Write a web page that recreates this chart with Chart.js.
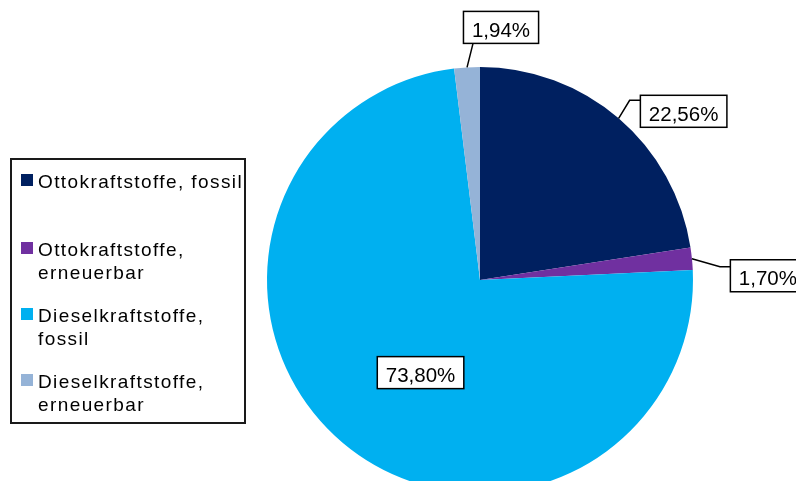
<!DOCTYPE html>
<html>
<head>
<meta charset="utf-8">
<script src="https://cdn.jsdelivr.net/npm/chart.js@4.4.1/dist/chart.umd.min.js"></script>
<style>
html, body { margin: 0; padding: 0; overflow: hidden; background: #fff; width: 796px; height: 481px; }
#wrap { position: relative; width: 796px; height: 481px; overflow: hidden; }
#pie { position: absolute; left: 0; top: 0; }
#legend {
    position: absolute; left: 10px; top: 158px; width: 232px; height: 262px;
    border: 2px solid #1a1a1a; background: #fff;
    font-family: "Liberation Sans", Arial, sans-serif; font-size: 19px;
    letter-spacing: 1.4px; color: #000;
}
.item { position: absolute; left: 9px; width: 236px; line-height: 23px; padding-left: 17px; box-sizing: border-box; }
.item .sw { position: absolute; left: 0; top: 4px; width: 12px; height: 12px; }
</style>
</head>
<body>
<div id="wrap">
    <canvas id="pie" width="796" height="560"></canvas>
    <div id="legend"></div>
</div>
<script>
// Energieverbrauch nach Kraftstoffart (Anteile in %)
const categories = ["Ottokraftstoffe, fossil", "Ottokraftstoffe, erneuerbar", "Dieselkraftstoffe, fossil", "Dieselkraftstoffe, erneuerbar"];
const shares = [22.56, 1.70, 73.80, 1.94];
const sliceColors = ["#002060", "#7030A0", "#00B0F0", "#95B3D7"];

// where each value box sits relative to its slice
const labelLayout = [
    { elbow: [11, -18], box: [65, -7] },
    { elbow: [28, 8], box: [76, 17] },
    { inside: true, rf: 0.52, box: [12, 8] },
    { elbow: [6, -24], box: [34, -40] }
];

function fmtPct(v) {
    return v.toFixed(2).replace(".", ",") + "%";
}

// legend as html (the entries wrap like the original)
let legendEl = document.getElementById("legend");
let itemTops = [10, 78, 144, 210];
categories.forEach((name, i) => {
    let div = document.createElement("div");
    div.className = "item";
    div.style.top = itemTops[i] + "px";
    let sw = document.createElement("span");
    sw.className = "sw";
    sw.style.background = sliceColors[i];
    div.appendChild(sw);
    div.appendChild(document.createTextNode(name));
    legendEl.appendChild(div);
});

const valueBoxes = {
    id: "valueBoxes",
    afterDatasetsDraw(chart) {
        let ctx = chart.ctx;
        let arcs = chart.getDatasetMeta(0).data;
        ctx.save();
        ctx.font = "20.5px 'Liberation Sans', Arial, sans-serif";
        arcs.forEach((arc, i) => {
            let p = arc.getProps(["x", "y", "startAngle", "endAngle", "outerRadius"], true);
            let mid = (p.startAngle + p.endAngle) / 2;
            let cfg = labelLayout[i];
            let text = fmtPct(shares[i]);
            let w = ctx.measureText(text).width + 17;
            let h = 32;
            let cx, cy;
            if (cfg.inside) {
                cx = p.x + Math.cos(mid) * p.outerRadius * cfg.rf + cfg.box[0];
                cy = p.y + Math.sin(mid) * p.outerRadius * cfg.rf + cfg.box[1];
            } else {
                let ax = p.x + Math.cos(mid) * p.outerRadius;
                let ay = p.y + Math.sin(mid) * p.outerRadius;
                let ex = ax + cfg.elbow[0];
                let ey = ay + cfg.elbow[1];
                cx = ax + cfg.box[0];
                cy = ay + cfg.box[1];
                ctx.strokeStyle = "#000";
                ctx.lineWidth = 1.5;
                ctx.beginPath();
                ctx.moveTo(ax, ay);
                ctx.lineTo(ex, ey);
                if (ex < cx - w / 2) {
                    ctx.lineTo(cx - w / 2, ey);
                }
                ctx.stroke();
            }
            let left = cx - w / 2;
            let top = cy - h / 2;
            ctx.fillStyle = "#fff";
            ctx.fillRect(left, top, w, h);
            ctx.strokeStyle = "#000";
            ctx.lineWidth = 1.5;
            ctx.strokeRect(left, top, w, h);
            ctx.fillStyle = "#000";
            ctx.textAlign = "center";
            ctx.textBaseline = "alphabetic";
            ctx.fillText(text, cx, top + 25.5);
        });
        ctx.restore();
    }
};

let ctx = document.getElementById("pie").getContext("2d");
let pieChart = new Chart(ctx, {
    type: "pie",
    data: {
        labels: categories,
        datasets: [{
            data: shares,
            backgroundColor: sliceColors,
            borderWidth: 0
        }]
    },
    options: {
        responsive: false,
        animation: false,
        layout: {
            padding: { left: 267, right: 103, top: 67, bottom: 67 }
        },
        plugins: {
            legend: { display: false },
            tooltip: { enabled: false }
        }
    },
    plugins: [valueBoxes]
});
</script>
</body>
</html>
